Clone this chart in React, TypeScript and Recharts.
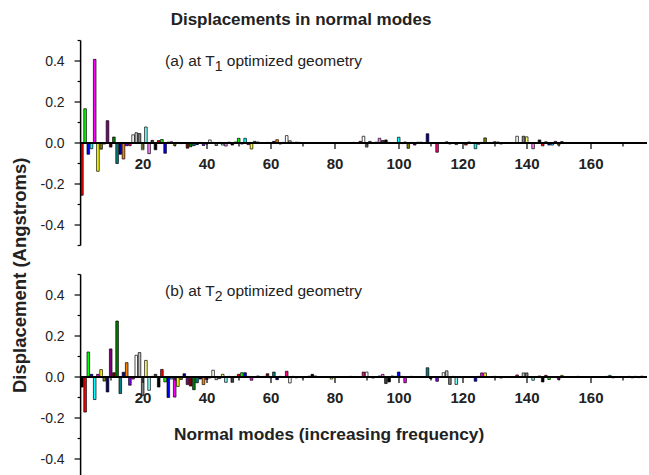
import React from 'react';
import { BarChart, Bar, XAxis, YAxis, ReferenceLine, Cell } from 'recharts';

// ---- data ----
const modes: number[] = Array.from({ length: 177 }, (_, i) => i + 1);

const panelAValues: number[] = [
  -0.255, 0.167, -0.055, -0.028, 0.408, -0.138, -0.03, -0.005, 0.109, -0.02,
  0.029, -0.1, -0.055, -0.078, -0.013, -0.013, 0.04, 0.05, 0.046, -0.033,
  0.078, -0.052, 0.013, -0.033, 0.012, 0.017, -0.05, 0.004, 0.006, -0.012,
  0.003, -0.003, 0.002, -0.025, -0.018, -0.013, -0.008, 0.003, -0.012, -0.005,
  0.015, 0.003, -0.012, 0.003, -0.01, -0.015, 0.004, -0.01, 0.005, 0.023,
  -0.005, 0.023, -0.008, -0.029, 0.008, 0.005, 0.002, -0.002, 0.003, -0.002,
  0.008, 0.016, -0.005, 0.003, 0.036, 0.011, 0.003, 0.004, 0.003, -0.002,
  0.002, 0.001, -0.002, 0.001, 0.002, -0.001, 0.001, 0.002, -0.002, 0.001,
  0.001, 0.002, -0.001, 0.002, 0.001, 0.003, 0.002, 0.008, 0.033, -0.02,
  0.008, 0.002, 0.004, 0.023, 0.012, 0.015, 0.003, -0.002, 0.002, 0.028,
  -0.003, 0.005, -0.026, 0.003, -0.01, 0.004, 0.004, 0.002, 0.045, -0.002,
  0.002, -0.045, 0.002, -0.002, 0.006, -0.005, 0.002, -0.008, 0.002, -0.002,
  -0.01, 0.005, 0.002, -0.028, -0.006, 0.003, 0.025, 0.002, -0.002, 0.006,
  0.005, -0.005, 0.002, -0.002, 0.001, 0.002, 0.033, 0.002, 0.033, 0.03,
  0.002, -0.028, 0.002, 0.015, -0.014, 0.006, -0.01, -0.01, 0.008, -0.01,
  0.007, 0.002, -0.002, 0.001, 0.002, -0.001, 0.001, -0.002, 0.001, 0.002,
  -0.001, 0.001, 0.002, -0.001, 0.001, 0.002, -0.002, 0.001, 0.001, -0.001,
  0.002, -0.001, 0.001, 0.002, -0.002, 0.001, -0.001,
];

const panelBValues: number[] = [
  -0.049, -0.171, 0.122, 0.013, -0.11, 0.013, 0.036, -0.02, -0.073, 0.137,
  0.021, 0.273, -0.081, 0.023, 0.07, -0.04, -0.01, 0.106, 0.119, -0.09,
  0.081, -0.065, 0.003, 0.013, -0.049, 0.037, -0.024, -0.1, -0.01, -0.098,
  -0.046, -0.012, 0.016, -0.037, -0.044, -0.062, -0.028, -0.01, -0.037, -0.012,
  -0.005, 0.033, -0.013, -0.008, 0.013, -0.026, 0.003, -0.026, 0.003, 0.013,
  0.021, 0.021, 0.003, -0.016, 0.002, 0.005, 0.002, 0.003, 0.016, -0.004,
  0.024, -0.013, 0.003, 0.002, 0.028, -0.029, 0.003, -0.004, 0.002, -0.004,
  0.002, 0.004, 0.013, 0.005, 0.002, -0.002, 0.001, 0.002, -0.01, 0.001,
  0.002, -0.001, 0.001, 0.002, 0.003, 0.001, -0.002, 0.002, 0.024, 0.024,
  0.002, -0.005, 0.002, 0.005, 0.013, -0.032, -0.024, 0.005, 0.003, 0.024,
  0.003, -0.028, 0.002, 0.003, 0.002, -0.002, 0.002, 0.001, 0.045, -0.008,
  0.002, -0.021, 0.002, 0.021, 0.03, -0.036, 0.003, -0.036, 0.002, -0.003,
  0.001, -0.002, 0.002, -0.021, 0.003, 0.02, 0.02, 0.002, -0.001, 0.003,
  0.002, -0.005, 0.001, 0.002, -0.002, 0.002, 0.01, 0.002, 0.02, 0.02,
  0.002, -0.016, 0.002, 0.005, -0.024, 0.008, -0.012, 0.002, 0.002, -0.012,
  0.008, 0.002, -0.002, 0.001, 0.002, 0.003, -0.001, 0.002, 0.001, -0.002,
  0.001, 0.002, -0.001, 0.002, 0.003, 0.008, -0.004, 0.002, 0.001, -0.002,
  0.002, 0.003, -0.004, 0.003, -0.003, 0.004, -0.002,
];

// Origin default colour cycle
const originColors: string[] = [
  '#000000', '#FF0000', '#00FF00', '#0000FF', '#00FFFF', '#FF00FF', '#FFFF00', '#808000',
  '#000080', '#800080', '#800000', '#008000', '#008080', '#0000A0', '#FF8000', '#8000FF',
  '#FF0080', '#FFFFFF', '#C0C0C0', '#808080', '#FFFF80', '#80FFFF', '#FF80FF', '#404040',
];

const xMajorTicks: number[] = [20, 40, 60, 80, 100, 120, 140, 160];
const xMinorTicks: number[] = [10, 30, 50, 70, 90, 110, 130, 150, 170];
const yMajorTicks: number[] = [-0.4, -0.2, 0, 0.2, 0.4];
const yMinorTicks: number[] = [-0.5, -0.3, -0.1, 0.1, 0.3, 0.5];

const FONT = '"Liberation Sans", Arial, Helvetica, sans-serif';
const TEXT = '#222';

const X_DOMAIN: [number, number] = [0.5, 177.5];
const PX_PER_X = 566.4 / 177;
const PX_PER_Y = 205;

function vbCenter(vb: any) {
  if (!vb) return { x: 0, y: 0 };
  if (vb.x1 !== undefined) {
    return { x: (vb.x1 + vb.x2) / 2, y: Math.min(vb.y1, vb.y2) };
  }
  return { x: vb.x + (vb.width || 0) / 2, y: vb.y };
}

type PanelProps = {
  values: number[];
  colorOffset: number;
  top: number;
  height: number;
  marginTop: number;
  marginBottom: number;
};

function Panel({ values, colorOffset, top, height, marginTop, marginBottom }: PanelProps) {
  const data = modes.map((m, i) => ({ mode: m, v: values[i] }));
  const majorLen = 6 / PX_PER_Y;
  const minorLen = 3.5 / PX_PER_Y;
  const yMinorLen = 3 / PX_PER_X;
  return (
    <div style={{ position: 'absolute', left: 0, top, width: 649, height }}>
      <BarChart
        width={649}
        height={height}
        data={data}
        margin={{ top: marginTop, right: 2, bottom: marginBottom, left: 20.6 }}
        barGap={0}
      >
        <XAxis
          dataKey="mode"
          type="number"
          domain={X_DOMAIN}
          allowDataOverflow
          hide
        />
        <YAxis
          type="number"
          domain={[-0.5, 0.5]}
          allowDataOverflow
          ticks={yMajorTicks}
          width={60}
          tickSize={6}
          tickMargin={10}
          tickFormatter={(v: number) => v.toFixed(1)}
          axisLine={{ stroke: '#000', strokeWidth: 1.5 }}
          tickLine={{ stroke: '#000', strokeWidth: 1.2 }}
          tick={{ fill: TEXT, fontSize: 14, fontFamily: FONT }}
        />
        {yMinorTicks.map((t) => (
          <ReferenceLine
            key={'ym' + t}
            segment={[{ x: X_DOMAIN[0] - yMinorLen, y: t }, { x: X_DOMAIN[0], y: t }]}
            stroke="#000"
            strokeWidth={1.2}
            ifOverflow="visible"
          />
        ))}
        <Bar dataKey="v" barSize={2.6} stroke="#000" strokeWidth={0.7} isAnimationActive={false}>
          {data.map((d, i) => (
            <Cell key={'c' + i} fill={originColors[(d.mode + colorOffset) % 24]} />
          ))}
        </Bar>
        <ReferenceLine y={0} stroke="#000" strokeWidth={1.8} ifOverflow="visible" />
        {xMinorTicks.map((t) => (
          <ReferenceLine
            key={'xm' + t}
            segment={[{ x: t, y: 0 }, { x: t, y: -minorLen }]}
            stroke="#000"
            strokeWidth={1.2}
          />
        ))}
        {xMajorTicks.map((t) => (
          <ReferenceLine
            key={'xM' + t}
            segment={[{ x: t, y: 0 }, { x: t, y: -majorLen }]}
            stroke="#000"
            strokeWidth={1.2}
            label={(p: any) => {
              const c = vbCenter(p.viewBox);
              return (
                <text
                  x={c.x}
                  y={c.y + 26}
                  textAnchor="middle"
                  fontSize={15}
                  fontWeight="bold"
                  fill={TEXT}
                  fontFamily={FONT}
                >
                  {String(t)}
                </text>
              );
            }}
          />
        ))}
      </BarChart>
    </div>
  );
}

export default function App() {
  return (
    <div
      style={{
        position: 'fixed',
        left: 0,
        top: 0,
        width: 649,
        height: 475,
        overflow: 'hidden',
        background: '#fff',
      }}
    >
      <Panel values={panelAValues} colorOffset={0} top={0} height={260} marginTop={40.5} marginBottom={14.5} />
      <Panel values={panelBValues} colorOffset={-1 + 24} top={234} height={256} marginTop={40.5} marginBottom={10.5} />
      <svg
        width={649}
        height={475}
        style={{ position: 'absolute', left: 0, top: 0, pointerEvents: 'none' }}
      >
        <text x={301} y={25} textAnchor="middle" fontSize={17} fontWeight="bold" fill={TEXT} fontFamily={FONT}>
          Displacements in normal modes
        </text>
        <text x={165} y={66} fontSize={15.5} fill={TEXT} fontFamily={FONT}>
          (a) at T<tspan fontSize={14} dy={5}>1</tspan>
          <tspan dy={-5}> optimized geometry</tspan>
        </text>
        <text x={165} y={296} fontSize={15.5} fill={TEXT} fontFamily={FONT}>
          (b) at T<tspan fontSize={14} dy={5}>2</tspan>
          <tspan dy={-5}> optimized geometry</tspan>
        </text>
        <text x={174} y={440} fontSize={17.3} fontWeight="bold" fill={TEXT} fontFamily={FONT}>
          Normal modes (increasing frequency)
        </text>
        <text
          x={0}
          y={0}
          transform="translate(26,393) rotate(-90)"
          fontSize={18.5}
          fontWeight="bold"
          fill={TEXT}
          fontFamily={FONT}
        >
          Displacement (Angstroms)
        </text>
      </svg>
    </div>
  );
}
